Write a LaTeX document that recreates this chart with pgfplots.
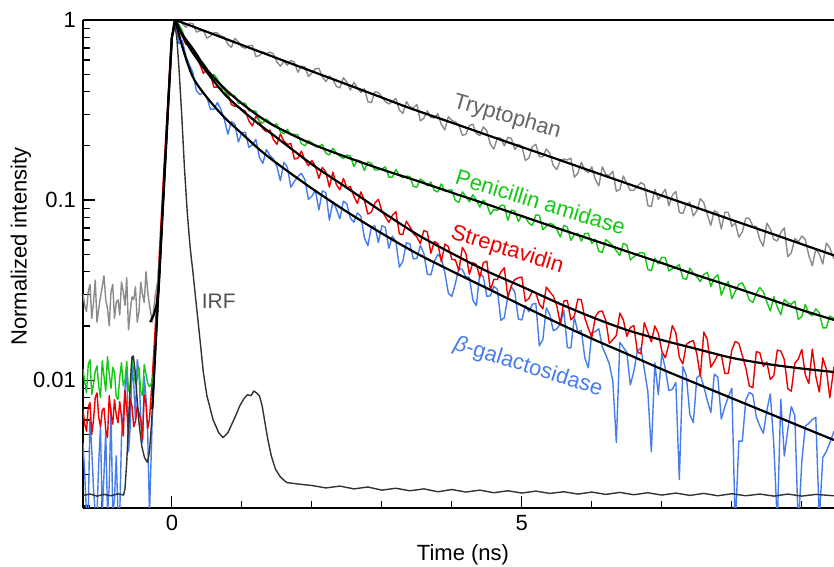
\documentclass[border=0pt]{standalone}
\usepackage{fontspec}
\setmainfont{Liberation Sans}
\usepackage{pgfplots}
\pgfplotsset{compat=1.18}
\definecolor{cgray}{RGB}{138,138,138}
\definecolor{cgreen}{RGB}{20,200,20}
\definecolor{cred}{RGB}{238,0,0}
\definecolor{cblue}{RGB}{70,125,235}
\definecolor{cirf}{RGB}{50,50,50}
\definecolor{tgray}{RGB}{100,100,100}
\begin{document}
\begin{tikzpicture}
\begin{axis}[
 scale only axis, width=375.5pt, height=244pt,
 xmin=-1.27, xmax=9.46, ymin=0.00195, ymax=1,
 ymode=log,
 axis x line*=box, axis y line*=left,
 xtick={0,5}, xticklabels={0,5}, minor xtick={-1,1,2,3,4,6,7,8,9},
 ytick={0.01,0.1,1}, yticklabels={0.01,0.1,1},
 minor ytick={0.002,0.003,0.004,0.005,0.006,0.007,0.008,0.009,0.02,0.03,0.04,0.05,0.06,0.07,0.08,0.09,0.2,0.3,0.4,0.5,0.6,0.7,0.8,0.9},
 tick align=inside, xtick pos=bottom, ytick pos=left,
 major tick length=6pt, minor tick length=3.5pt,
 tick style={black, line width=0.6pt},
 axis line style={black, line width=0.8pt},
 ticklabel style={font=\fontsize{11}{13}\selectfont},
 xlabel={Time (ns)}, ylabel={Normalized intensity},
 label style={font=\fontsize{11}{13}\selectfont},
 xlabel style={at={(axis description cs:0.506,-0.0963)}, anchor=center},
 ylabel style={at={(axis description cs:-0.0826,0.536)}, anchor=center},
 every axis plot/.append style={line join=round},
 clip=true,
]
% beta-galactosidase data
\addplot[cblue, line width=0.7pt] coordinates {
(-1.27,0.0045)(-1.245,0.0030)(-1.22,0.0018)(-1.195,0.0018)(-1.17,0.0062)(-1.145,0.0041)(-1.12,0.0025)(-1.095,0.0018)(-1.07,0.0018)(-1.045,0.0035)(-1.02,0.0055)(-0.995,0.0018)(-0.97,0.0030)(-0.945,0.0052)(-0.92,0.0018)(-0.895,0.0026)(-0.87,0.0070)(-0.845,0.0018)(-0.82,0.0022)(-0.795,0.0038)(-0.77,0.0018)(-0.745,0.0018)(-0.72,0.0048)(-0.695,0.0065)(-0.67,0.0090)(-0.645,0.0118)(-0.62,0.0040)(-0.595,0.0055)(-0.57,0.0120)(-0.545,0.0095)(-0.52,0.0060)(-0.495,0.0130)(-0.47,0.0110)(-0.445,0.0062)(-0.42,0.0045)(-0.395,0.0105)(-0.37,0.0080)(-0.345,0.0050)(-0.32,0.0018)
(-0.28,0.0062)(-0.25,0.011)(-0.2,0.026)(-0.15,0.062)(-0.1,0.15)(-0.05,0.35)(0,0.8)(0.05,1)
(0.1,0.740)(0.15,0.766)(0.2,0.631)(0.25,0.564)(0.3,0.512)(0.35,0.405)(0.4,0.385)(0.45,0.396)(0.5,0.372)(0.55,0.320)(0.6,0.319)(0.65,0.348)(0.7,0.319)(0.75,0.280)(0.8,0.232)(0.85,0.273)(0.9,0.264)(0.95,0.210)(1.0,0.237)(1.05,0.238)(1.1,0.196)(1.15,0.203)(1.2,0.217)(1.25,0.173)(1.3,0.160)(1.35,0.191)(1.4,0.177)(1.45,0.169)(1.5,0.154)(1.55,0.128)(1.6,0.162)(1.65,0.152)(1.7,0.118)(1.75,0.127)(1.8,0.135)(1.85,0.141)(1.9,0.130)(1.95,0.101)(2.0,0.105)(2.05,0.1135)(2.1,0.0881)(2.15,0.1125)(2.2,0.110)(2.25,0.0774)(2.3,0.0979)(2.35,0.0893)(2.4,0.0787)(2.45,0.0986)(2.5,0.0953)(2.55,0.0794)(2.6,0.0753)(2.65,0.0849)(2.7,0.0813)(2.75,0.0618)(2.8,0.0558)(2.85,0.0710)(2.9,0.0719)(2.95,0.0581)(3.0,0.0720)(3.05,0.0706)(3.1,0.0540)(3.15,0.0631)(3.2,0.0589)(3.25,0.0424)(3.3,0.0457)(3.35,0.0579)(3.4,0.0571)(3.45,0.0471)(3.5,0.0475)(3.55,0.0560)(3.6,0.0505)(3.65,0.0388)(3.7,0.0384)(3.75,0.0458)(3.8,0.0499)(3.85,0.0475)(3.9,0.0395)(3.95,0.0304)(4.0,0.0292)(4.05,0.0343)(4.1,0.0419)(4.15,0.0411)(4.2,0.0375)(4.25,0.0373)(4.3,0.0279)(4.35,0.0259)(4.4,0.0394)(4.45,0.0375)(4.5,0.0292)(4.55,0.0294)(4.6,0.0332)(4.65,0.0320)(4.7,0.0215)(4.75,0.0222)(4.8,0.0294)(4.85,0.0330)(4.9,0.0308)(4.95,0.0218)(5.0,0.0216)(5.05,0.0259)(5.1,0.0240)(5.15,0.0264)(5.2,0.0267)(5.25,0.0155)(5.3,0.0168)(5.35,0.0252)(5.4,0.0231)(5.45,0.0188)(5.5,0.0193)(5.55,0.0205)(5.6,0.0244)(5.65,0.0152)(5.7,0.0151)(5.75,0.0224)(5.8,0.0185)(5.85,0.0189)(5.9,0.0133)(5.95,0.0117)(6.0,0.0184)(6.05,0.0186)(6.1,0.0193)(6.15,0.0153)(6.2,0.0138)(6.25,0.0123)(6.3,0.00984)(6.35,0.0045)(6.4,0.0162)(6.45,0.0152)(6.5,0.0143)(6.55,0.00940)(6.6,0.0112)(6.65,0.0145)(6.7,0.0151)(6.75,0.0115)(6.8,0.00865)(6.85,0.0040)(6.9,0.0125)(6.95,0.00830)(7.0,0.0141)(7.05,0.0116)(7.1,0.00877)(7.15,0.00889)(7.2,0.00970)(7.25,0.0028)(7.3,0.0119)(7.35,0.0106)(7.4,0.00644)(7.45,0.00581)(7.5,0.0103)(7.55,0.0107)(7.6,0.00920)(7.65,0.00771)(7.7,0.00661)(7.75,0.0108)(7.8,0.0104)(7.85,0.00608)(7.9,0.00710)(7.95,0.00809)(8.0,0.00902)(8.05,0.0015)(8.1,0.00459)(8.15,0.00458)(8.2,0.00776)(8.25,0.00855)(8.3,0.00832)(8.35,0.00624)(8.4,0.00556)(8.45,0.00507)(8.5,0.00678)(8.55,0.00839)(8.6,0.00439)(8.65,0.0016)(8.7,0.00782)(8.75,0.00379)(8.8,0.00531)(8.85,0.00713)(8.9,0.00637)(8.95,0.0015)(9.0,0.00353)(9.05,0.00556)(9.1,0.00575)(9.15,0.00604)(9.2,0.00621)(9.25,0.0017)(9.3,0.00371)(9.35,0.00402)(9.4,0.00448)(9.46,0.00521)
};
% Streptavidin data
\addplot[cred, line width=0.7pt] coordinates {
(-1.27,0.0068)(-1.245,0.0057)(-1.22,0.0052)(-1.195,0.0071)(-1.17,0.0075)(-1.145,0.0050)(-1.12,0.0060)(-1.095,0.0080)(-1.07,0.0085)(-1.045,0.0062)(-1.02,0.0055)(-0.995,0.0068)(-0.97,0.0070)(-0.945,0.0053)(-0.92,0.0048)(-0.895,0.0082)(-0.87,0.0065)(-0.845,0.0057)(-0.82,0.0078)(-0.795,0.0064)(-0.77,0.0058)(-0.745,0.0076)(-0.72,0.0062)(-0.695,0.0049)(-0.67,0.0088)(-0.645,0.0069)(-0.62,0.0050)(-0.595,0.0079)(-0.57,0.0072)(-0.545,0.0055)(-0.52,0.0059)(-0.495,0.0071)(-0.47,0.0066)(-0.445,0.0060)(-0.42,0.0047)(-0.395,0.0083)(-0.37,0.0074)(-0.345,0.0054)(-0.32,0.0061)
(-0.29,0.009)(-0.26,0.014)(-0.21,0.03)(-0.16,0.07)(-0.11,0.16)(-0.06,0.34)(-0.01,0.78)(0.05,1)
(0.1,0.906)(0.15,0.811)(0.2,0.733)(0.25,0.731)(0.3,0.685)(0.35,0.624)(0.4,0.567)(0.45,0.506)(0.5,0.528)(0.55,0.500)(0.6,0.424)(0.65,0.424)(0.7,0.416)(0.75,0.413)(0.8,0.388)(0.85,0.339)(0.9,0.332)(0.95,0.330)(1.0,0.318)(1.05,0.312)(1.1,0.275)(1.15,0.258)(1.2,0.292)(1.25,0.276)(1.3,0.249)(1.35,0.240)(1.4,0.245)(1.45,0.217)(1.5,0.204)(1.55,0.233)(1.6,0.213)(1.65,0.204)(1.7,0.206)(1.75,0.169)(1.8,0.171)(1.85,0.187)(1.9,0.167)(1.95,0.155)(2.0,0.166)(2.05,0.1545)(2.1,0.132)(2.15,0.152)(2.2,0.143)(2.25,0.118)(2.3,0.143)(2.35,0.122)(2.4,0.114)(2.45,0.132)(2.5,0.117)(2.55,0.119)(2.6,0.105)(2.65,0.0957)(2.7,0.111)(2.75,0.100)(2.8,0.0836)(2.85,0.0857)(2.9,0.0962)(2.95,0.101)(3.0,0.0873)(3.05,0.0809)(3.1,0.0752)(3.15,0.0822)(3.2,0.0863)(3.25,0.0649)(3.3,0.0644)(3.35,0.0764)(3.4,0.0711)(3.45,0.0652)(3.5,0.0624)(3.55,0.0573)(3.6,0.0678)(3.65,0.0665)(3.7,0.0507)(3.75,0.0589)(3.8,0.0573)(3.85,0.0455)(3.9,0.0570)(3.95,0.0551)(4.0,0.0469)(4.05,0.0465)(4.1,0.0406)(4.15,0.0546)(4.2,0.0506)(4.25,0.0388)(4.3,0.0449)(4.35,0.0439)(4.4,0.0373)(4.45,0.0449)(4.5,0.0458)(4.55,0.0316)(4.6,0.0363)(4.65,0.0362)(4.7,0.0398)(4.75,0.0421)(4.8,0.0288)(4.85,0.0335)(4.9,0.0362)(4.95,0.0370)(5.0,0.0374)(5.05,0.0274)(5.1,0.0284)(5.15,0.0311)(5.2,0.0305)(5.25,0.0264)(5.3,0.0249)(5.35,0.0329)(5.4,0.0309)(5.45,0.0293)(5.5,0.0258)(5.55,0.0205)(5.6,0.0275)(5.65,0.0277)(5.7,0.0216)(5.75,0.0227)(5.8,0.0282)(5.85,0.0279)(5.9,0.0221)(5.95,0.0194)(6.0,0.0173)(6.05,0.0225)(6.1,0.0240)(6.15,0.0242)(6.2,0.0214)(6.25,0.0160)(6.3,0.0168)(6.35,0.0177)(6.4,0.0236)(6.45,0.0216)(6.5,0.0175)(6.55,0.0196)(6.6,0.0201)(6.65,0.0144)(6.7,0.0140)(6.75,0.0209)(6.8,0.0184)(6.85,0.0163)(6.9,0.0200)(6.95,0.0182)(7.0,0.0145)(7.05,0.0133)(7.1,0.0158)(7.15,0.0201)(7.2,0.0183)(7.25,0.0134)(7.3,0.0123)(7.35,0.0158)(7.4,0.0163)(7.45,0.0166)(7.5,0.0140)(7.55,0.0105)(7.6,0.0185)(7.65,0.0168)(7.7,0.0118)(7.75,0.0127)(7.8,0.0139)(7.85,0.0138)(7.9,0.0109)(7.95,0.0109)(8.0,0.0147)(8.05,0.0164)(8.1,0.0160)(8.15,0.0137)(8.2,0.0117)(8.25,0.00929)(8.3,0.00908)(8.35,0.0144)(8.4,0.0142)(8.45,0.0119)(8.5,0.0126)(8.55,0.0101)(8.6,0.0106)(8.65,0.0147)(8.7,0.0145)(8.75,0.0130)(8.8,0.00895)(8.85,0.00869)(8.9,0.0124)(8.95,0.0131)(9.0,0.0148)(9.05,0.0107)(9.1,0.00957)(9.15,0.0149)(9.2,0.0105)(9.25,0.00859)(9.3,0.0133)(9.35,0.0115)(9.4,0.0080)(9.46,0.0119)
};
% Penicillin amidase data
\addplot[cgreen, line width=0.7pt] coordinates {
(-1.27,0.0115)(-1.245,0.0098)(-1.22,0.0085)(-1.195,0.0122)(-1.17,0.0130)(-1.145,0.0083)(-1.12,0.0095)(-1.095,0.0112)(-1.07,0.0120)(-1.045,0.0092)(-1.02,0.0080)(-0.995,0.0128)(-0.97,0.0105)(-0.945,0.0087)(-0.92,0.0135)(-0.895,0.0108)(-0.87,0.0090)(-0.845,0.0118)(-0.82,0.0110)(-0.795,0.0081)(-0.77,0.0078)(-0.745,0.0104)(-0.72,0.0125)(-0.695,0.0093)(-0.67,0.0100)(-0.645,0.0127)(-0.62,0.0088)(-0.595,0.0085)(-0.57,0.0132)(-0.545,0.0112)(-0.52,0.0096)(-0.495,0.0101)(-0.47,0.0118)(-0.445,0.0087)(-0.42,0.0082)(-0.395,0.0122)(-0.37,0.0108)(-0.345,0.0096)(-0.32,0.0092)
(-0.28,0.0098)(-0.25,0.0118)(-0.2,0.027)(-0.15,0.064)(-0.1,0.15)(-0.05,0.355)(0,0.8)(0.05,1)
(0.1,0.944)(0.15,0.871)(0.2,0.757)(0.25,0.714)(0.3,0.692)(0.35,0.650)(0.4,0.582)(0.45,0.575)(0.5,0.540)(0.55,0.476)(0.6,0.498)(0.65,0.471)(0.7,0.430)(0.75,0.411)(0.8,0.377)(0.85,0.385)(0.9,0.379)(0.95,0.344)(1.0,0.346)(1.05,0.345)(1.1,0.313)(1.15,0.314)(1.2,0.311)(1.25,0.274)(1.3,0.268)(1.35,0.282)(1.4,0.270)(1.45,0.259)(1.5,0.265)(1.55,0.239)(1.6,0.234)(1.65,0.247)(1.7,0.230)(1.75,0.232)(1.8,0.230)(1.85,0.206)(1.9,0.200)(1.95,0.214)(2.0,0.208)(2.05,0.198)(2.1,0.198)(2.15,0.204)(2.2,0.182)(2.25,0.178)(2.3,0.194)(2.35,0.183)(2.4,0.175)(2.45,0.170)(2.5,0.178)(2.55,0.176)(2.6,0.1535)(2.65,0.167)(2.7,0.164)(2.75,0.146)(2.8,0.163)(2.85,0.160)(2.9,0.147)(2.95,0.147)(3.0,0.149)(3.05,0.153)(3.1,0.134)(3.15,0.134)(3.2,0.148)(3.25,0.137)(3.3,0.133)(3.35,0.136)(3.4,0.135)(3.45,0.119)(3.5,0.118)(3.55,0.131)(3.6,0.127)(3.65,0.120)(3.7,0.126)(3.75,0.113)(3.8,0.111)(3.85,0.123)(3.9,0.112)(3.95,0.1135)(4.0,0.114)(4.05,0.0995)(4.1,0.0970)(4.15,0.111)(4.2,0.105)(4.25,0.0977)(4.3,0.107)(4.35,0.0998)(4.4,0.0914)(4.45,0.1000)(4.5,0.0948)(4.55,0.0832)(4.6,0.0889)(4.65,0.0875)(4.7,0.0935)(4.75,0.0935)(4.8,0.0771)(4.85,0.0881)(4.9,0.0869)(4.95,0.0760)(5.0,0.0823)(5.05,0.0804)(5.1,0.0745)(5.15,0.0724)(5.2,0.0828)(5.25,0.0822)(5.3,0.0684)(5.35,0.0716)(5.4,0.0743)(5.45,0.0731)(5.5,0.0686)(5.55,0.0624)(5.6,0.0724)(5.65,0.0708)(5.7,0.0597)(5.75,0.0643)(5.8,0.0655)(5.85,0.0592)(5.9,0.0652)(5.95,0.0653)(6.0,0.0574)(6.05,0.0607)(6.1,0.0520)(6.15,0.0512)(6.2,0.0603)(6.25,0.0582)(6.3,0.0558)(6.35,0.0522)(6.4,0.0493)(6.45,0.0575)(6.5,0.0562)(6.55,0.0465)(6.6,0.0484)(6.65,0.0502)(6.7,0.0511)(6.75,0.0507)(6.8,0.0412)(6.85,0.0405)(6.9,0.0476)(6.95,0.0442)(7.0,0.0481)(7.05,0.0479)(7.1,0.0404)(7.15,0.0416)(7.2,0.0423)(7.25,0.0438)(7.3,0.0369)(7.35,0.0362)(7.4,0.0419)(7.45,0.0392)(7.5,0.0375)(7.55,0.0352)(7.6,0.0387)(7.65,0.0397)(7.7,0.0331)(7.75,0.0370)(7.8,0.0385)(7.85,0.0296)(7.9,0.0332)(7.95,0.0353)(8.0,0.0283)(8.05,0.0312)(8.1,0.0341)(8.15,0.0347)(8.2,0.0317)(8.25,0.0279)(8.3,0.0270)(8.35,0.0303)(8.4,0.0327)(8.45,0.0310)(8.5,0.0272)(8.55,0.0242)(8.6,0.0291)(8.65,0.0255)(8.7,0.0231)(8.75,0.0281)(8.8,0.0268)(8.85,0.0264)(8.9,0.0275)(8.95,0.0217)(9.0,0.0226)(9.05,0.0263)(9.1,0.0235)(9.15,0.0228)(9.2,0.0249)(9.25,0.0237)(9.3,0.0195)(9.35,0.0195)(9.4,0.0227)(9.46,0.0220)
};
% Tryptophan data
\addplot[cgray, line width=0.7pt] coordinates {
(-1.27,0.030)(-1.245,0.026)(-1.22,0.024)(-1.195,0.031)(-1.17,0.034)(-1.145,0.022)(-1.12,0.027)(-1.095,0.036)(-1.07,0.021)(-1.045,0.025)(-1.02,0.029)(-0.995,0.033)(-0.97,0.038)(-0.945,0.028)(-0.92,0.025)(-0.895,0.020)(-0.87,0.031)(-0.845,0.034)(-0.82,0.022)(-0.795,0.027)(-0.77,0.028)(-0.745,0.023)(-0.72,0.035)(-0.695,0.031)(-0.67,0.026)(-0.645,0.037)(-0.62,0.019)(-0.595,0.024)(-0.57,0.029)(-0.545,0.028)(-0.52,0.033)(-0.495,0.021)(-0.47,0.024)(-0.445,0.035)(-0.42,0.030)(-0.395,0.027)(-0.37,0.040)(-0.345,0.031)(-0.32,0.026)
(-0.28,0.021)(-0.24,0.029)(-0.2,0.036)(-0.16,0.06)(-0.12,0.11)(-0.08,0.21)(-0.04,0.42)(0,0.8)(0.05,1)
(0.1,0.995)(0.15,0.953)(0.2,0.912)(0.25,0.959)(0.3,0.955)(0.35,0.857)(0.4,0.871)(0.45,0.875)(0.5,0.794)(0.55,0.813)(0.6,0.851)(0.65,0.847)(0.7,0.813)(0.75,0.804)(0.8,0.733)(0.85,0.705)(0.9,0.791)(0.95,0.756)(1.0,0.708)(1.05,0.697)(1.1,0.720)(1.15,0.723)(1.2,0.627)(1.25,0.634)(1.3,0.664)(1.35,0.650)(1.4,0.664)(1.45,0.649)(1.5,0.585)(1.55,0.554)(1.6,0.589)(1.65,0.561)(1.7,0.597)(1.75,0.583)(1.8,0.513)(1.85,0.553)(1.9,0.550)(1.95,0.486)(2.0,0.508)(2.05,0.536)(2.1,0.540)(2.15,0.483)(2.2,0.455)(2.25,0.488)(2.3,0.469)(2.35,0.428)(2.4,0.420)(2.45,0.478)(2.5,0.452)(2.55,0.408)(2.6,0.451)(2.65,0.420)(2.7,0.396)(2.75,0.416)(2.8,0.352)(2.85,0.347)(2.9,0.399)(2.95,0.396)(3.0,0.374)(3.05,0.352)(3.1,0.342)(3.15,0.352)(3.2,0.367)(3.25,0.316)(3.3,0.303)(3.35,0.352)(3.4,0.330)(3.45,0.325)(3.5,0.340)(3.55,0.275)(3.6,0.285)(3.65,0.313)(3.7,0.287)(3.75,0.286)(3.8,0.302)(3.85,0.263)(3.9,0.245)(3.95,0.291)(4.0,0.277)(4.05,0.272)(4.1,0.261)(4.15,0.229)(4.2,0.232)(4.25,0.259)(4.3,0.264)(4.35,0.234)(4.4,0.228)(4.45,0.255)(4.5,0.242)(4.55,0.204)(4.6,0.192)(4.65,0.222)(4.7,0.221)(4.75,0.200)(4.8,0.223)(4.85,0.220)(4.9,0.191)(4.95,0.204)(5.0,0.199)(5.05,0.166)(5.1,0.171)(5.15,0.198)(5.2,0.204)(5.25,0.174)(5.3,0.174)(5.35,0.192)(5.4,0.182)(5.45,0.155)(5.5,0.148)(5.55,0.166)(5.6,0.169)(5.65,0.167)(5.7,0.171)(5.75,0.134)(5.8,0.141)(5.85,0.162)(5.9,0.147)(5.95,0.142)(6.0,0.153)(6.05,0.130)(6.1,0.120)(6.15,0.153)(6.2,0.139)(6.25,0.137)(6.3,0.1445)(6.35,0.112)(6.4,0.1146)(6.45,0.136)(6.5,0.1236)(6.55,0.113)(6.6,0.1135)(6.65,0.119)(6.7,0.125)(6.75,0.122)(6.8,0.0935)(6.85,0.0920)(6.9,0.1148)(6.95,0.101)(7.0,0.1073)(7.05,0.115)(7.1,0.0931)(7.15,0.106)(7.2,0.1117)(7.25,0.0855)(7.3,0.0841)(7.35,0.0948)(7.4,0.0973)(7.45,0.0817)(7.5,0.0871)(7.55,0.102)(7.6,0.0966)(7.65,0.0830)(7.7,0.0724)(7.75,0.0873)(7.8,0.0849)(7.85,0.0690)(7.9,0.0857)(7.95,0.0855)(8.0,0.0714)(8.05,0.0748)(8.1,0.0622)(8.15,0.0665)(8.2,0.0794)(8.25,0.0793)(8.3,0.0716)(8.35,0.0714)(8.4,0.0603)(8.45,0.0555)(8.5,0.0745)(8.55,0.0692)(8.6,0.0604)(8.65,0.0593)(8.7,0.0661)(8.75,0.0701)(8.8,0.0485)(8.85,0.0509)(8.9,0.0612)(8.95,0.0585)(9.0,0.0632)(9.05,0.0604)(9.1,0.0492)(9.15,0.0432)(9.2,0.0535)(9.25,0.0502)(9.3,0.0441)(9.35,0.0577)(9.4,0.0543)(9.46,0.0471)
};
% IRF
\addplot[cirf, line width=0.7pt] coordinates {
(-1.27,0.00229)(-1.17,0.00233)(-1.07,0.00227)(-0.97,0.00232)(-0.87,0.00228)(-0.77,0.00234)(-0.69,0.0023)(-0.67,0.0025)(-0.645,0.0035)(-0.62,0.0058)(-0.595,0.0095)(-0.57,0.0135)(-0.55,0.0136)(-0.525,0.0112)(-0.5,0.0082)(-0.47,0.0058)(-0.43,0.0043)(-0.39,0.0037)(-0.35,0.0035)(-0.32,0.004)(-0.29,0.0058)(-0.25,0.0115)(-0.2,0.027)(-0.15,0.064)(-0.1,0.15)(-0.05,0.36)(0,0.8)(0.03,1)
(0.07,0.8)(0.1,0.55)(0.14,0.3)(0.18,0.15)(0.22,0.085)(0.26,0.055)(0.3,0.04)(0.35,0.026)(0.4,0.017)(0.45,0.011)(0.5,0.0082)(0.59,0.006)(0.67,0.0051)(0.73,0.0048)(0.8,0.0051)(0.9,0.0062)(0.97,0.0072)(1.03,0.0079)(1.08,0.0083)(1.13,0.0082)(1.17,0.0087)(1.21,0.0085)(1.25,0.0082)(1.29,0.0072)(1.33,0.0058)(1.37,0.0047)(1.42,0.0038)(1.48,0.0032)(1.55,0.0029)(1.64,0.0027)(1.8,0.00265)(2.0,0.0026)
(2.2,0.00252)(2.4,0.00258)(2.6,0.00249)(2.8,0.00255)(3.0,0.00245)(3.2,0.00251)(3.4,0.00243)(3.6,0.00249)(3.8,0.0024)(4.0,0.00247)(4.2,0.00239)(4.4,0.00245)(4.6,0.00237)(4.8,0.00243)(5.0,0.00236)(5.2,0.00242)(5.4,0.00235)(5.6,0.0024)(5.8,0.00233)(6.0,0.00239)(6.2,0.00232)(6.4,0.00238)(6.6,0.00231)(6.8,0.00237)(7.0,0.0023)(7.2,0.00236)(7.4,0.00229)(7.6,0.00235)(7.8,0.00228)(8.0,0.00234)(8.2,0.00228)(8.4,0.00233)(8.6,0.00227)(8.8,0.00233)(9.0,0.00227)(9.2,0.00232)(9.46,0.00228)
};
% fits
\addplot[black, line width=1.1pt] coordinates {(-0.31,0.021)(-0.26,0.023)(-0.22,0.026)(-0.19,0.032)(-0.15,0.064)(-0.1,0.15)(-0.05,0.355)(0,0.8)(0.05,1)};
\addplot[black, line width=1.1pt, smooth] coordinates {(0.05,1)(0.5,0.860)(1,0.727)(1.5,0.614)(2,0.519)(2.5,0.439)(3,0.371)(3.4,0.324)(4,0.269)(4.5,0.230)(5,0.197)(5.5,0.169)(6,0.1445)(6.5,0.1237)(7,0.1059)(7.5,0.0907)(8,0.0776)(8.5,0.0665)(9,0.0569)(9.46,0.0493)};
\addplot[black, line width=1.1pt] coordinates {(-0.28,0.0069)(-0.25,0.0115)(-0.2,0.027)(-0.15,0.064)(-0.1,0.15)(-0.05,0.355)(0,0.8)(0.05,1)};
\addplot[black, line width=1.1pt, smooth] coordinates {(0.05,1)(0.15,0.832)(0.3,0.692)(0.5,0.531)(0.75,0.417)(1,0.344)(1.25,0.291)(1.5,0.254)(2,0.205)(2.5,0.173)(3,0.148)(3.5,0.128)(4,0.110)(4.5,0.0948)(5,0.0815)(5.5,0.0700)(6,0.0603)(6.5,0.0519)(7,0.0447)(7.5,0.0383)(8,0.0331)(8.5,0.0285)(9,0.0245)(9.46,0.0216)};
\addplot[black, line width=1.1pt, smooth] coordinates {(0.05,1)(0.15,0.822)(0.3,0.656)(0.5,0.513)(0.75,0.389)(1,0.316)(1.25,0.263)(1.5,0.222)(2,0.158)(2.5,0.117)(3,0.0863)(3.5,0.0646)(4,0.0506)(4.5,0.0403)(5,0.0331)(5.5,0.0270)(6,0.0224)(6.5,0.0190)(7,0.0167)(7.5,0.0149)(8,0.0133)(8.5,0.0123)(9,0.0116)(9.46,0.0111)};
\addplot[black, line width=1.1pt, smooth] coordinates {(0.05,1)(0.15,0.708)(0.3,0.482)(0.5,0.372)(0.75,0.288)(1,0.234)(1.25,0.191)(1.5,0.160)(2,0.116)(2.5,0.0861)(3,0.0653)(3.5,0.0505)(4,0.0403)(4.5,0.0324)(5,0.0260)(5.5,0.0209)(6,0.0170)(6.5,0.0140)(7,0.0115)(7.5,0.00955)(8,0.00794)(8.5,0.00661)(9,0.00550)(9.46,0.00465)};
% labels
\node[rotate=-16, text=tgray, inner sep=0pt, font=\fontsize{11}{13}\selectfont] at (axis cs:4.79,0.289) {Tryptophan};
\node[rotate=-17, text=cgreen, inner sep=0pt, font=\fontsize{11}{13}\selectfont] at (axis cs:5.27,0.0975) {Penicillin amidase};
\node[rotate=-17, text=cred, inner sep=0pt, font=\fontsize{11}{13}\selectfont] at (axis cs:4.79,0.0527) {Streptavidin};
\node[rotate=-17.5, text=cblue, inner sep=0pt, font=\fontsize{11}{13}\selectfont] at (axis cs:5.09,0.0118) {{\itshape β}-galactosidase};
\node[text=cirf!85, inner sep=0pt, font=\fontsize{10.5}{12}\selectfont] at (axis cs:0.67,0.0275) {IRF};
\end{axis}
\pgfresetboundingbox
\path ([shift={(-41.5pt,-29.5pt)}]current axis.south west) rectangle ([shift={(0pt,10pt)}]current axis.north east);
\end{tikzpicture}
\end{document}
